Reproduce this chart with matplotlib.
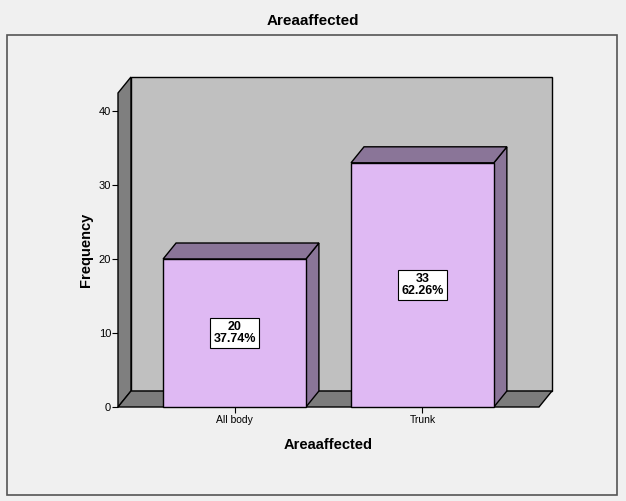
import matplotlib
matplotlib.use('Agg')
import matplotlib.pyplot as plt
from matplotlib.patches import Polygon, Rectangle

# data
categories = ['All body', 'Trunk']
counts = [20, 33]
percents = [37.74, 62.26]
y_ticks = [0, 10, 20, 30, 40]

# colours
bg = '#f0f0f0'
wall_back = '#c0c0c0'
wall_side = '#7f7f7f'
floor_col = '#7c7c7c'
bar_front = '#dfb9f3'
bar_dark = '#8a7598'

plt.rcParams['font.family'] = ['Liberation Sans', 'DejaVu Sans']

W, H = 626, 501
fig = plt.figure(figsize=(W / 100, H / 100), dpi=100, facecolor=bg)

# outer frame
fig.patches.append(Rectangle((7 / W, 6 / H), 610 / W, 460 / H, transform=fig.transFigure,
                             facecolor='none', edgecolor='#555555', lw=1.2, zorder=-1))
fig.text(313 / W, 1 - 21 / H, 'Areaaffected', ha='center', va='center',
         fontsize=11, fontweight='bold')

# front plane of the plot
x_lo, x_hi = -0.62, 1.62
y_top = 42.43
ax = fig.add_axes([118 / W, 1 - 407 / H, 421 / W, 314 / H])
ax.set_xlim(x_lo, x_hi)
ax.set_ylim(0, y_top)
ax.patch.set_visible(False)
for s in ax.spines.values():
    s.set_visible(False)

dx, dy = 0.069, 2.16   # depth offset in data units
bw = 0.76


def poly(pts, fc, z):
    p = Polygon(pts, closed=True, facecolor=fc, edgecolor='black', lw=1, zorder=z, clip_on=False)
    ax.add_patch(p)


# walls and floor
poly([(x_lo + dx, dy), (x_hi + dx, dy), (x_hi + dx, y_top + dy), (x_lo + dx, y_top + dy)], wall_back, 1)
poly([(x_lo, 0), (x_lo, y_top), (x_lo + dx, y_top + dy), (x_lo + dx, dy)], wall_side, 2)
poly([(x_lo, 0), (x_hi, 0), (x_hi + dx, dy), (x_lo + dx, dy)], floor_col, 2)

# bars
for i, (c, p) in enumerate(zip(counts, percents)):
    l, r = i - bw / 2, i + bw / 2
    poly([(r, 0), (r + dx, dy), (r + dx, c + dy), (r, c)], bar_dark, 3)
    poly([(l, c), (r, c), (r + dx, c + dy), (l + dx, c + dy)], bar_dark, 3)
    poly([(l, 0), (r, 0), (r, c), (l, c)], bar_front, 4)
    ax.text(i, c / 2, f'{c}\n{p:.2f}%', ha='center', va='center', fontsize=9,
            fontweight='bold', linespacing=1.05, zorder=6,
            family=['Liberation Sans Narrow', 'Liberation Sans', 'DejaVu Sans'],
            bbox=dict(boxstyle='square,pad=0.25', facecolor='white', edgecolor='black', lw=0.8))

ax.set_yticks(y_ticks)
ax.set_xticks(range(len(categories)))
ax.set_xticklabels(categories)
ax.tick_params(axis='y', length=4, width=0.8, labelsize=8, pad=1)
ax.tick_params(axis='x', length=4, width=0.8, labelsize=7.5, pad=2)
ax.set_xlabel('Areaaffected', fontsize=10.5, fontweight='bold', labelpad=9)
ax.set_ylabel('Frequency', fontsize=10.5, fontweight='bold', labelpad=4)

fig.savefig('out.png', dpi=100, facecolor=bg)
